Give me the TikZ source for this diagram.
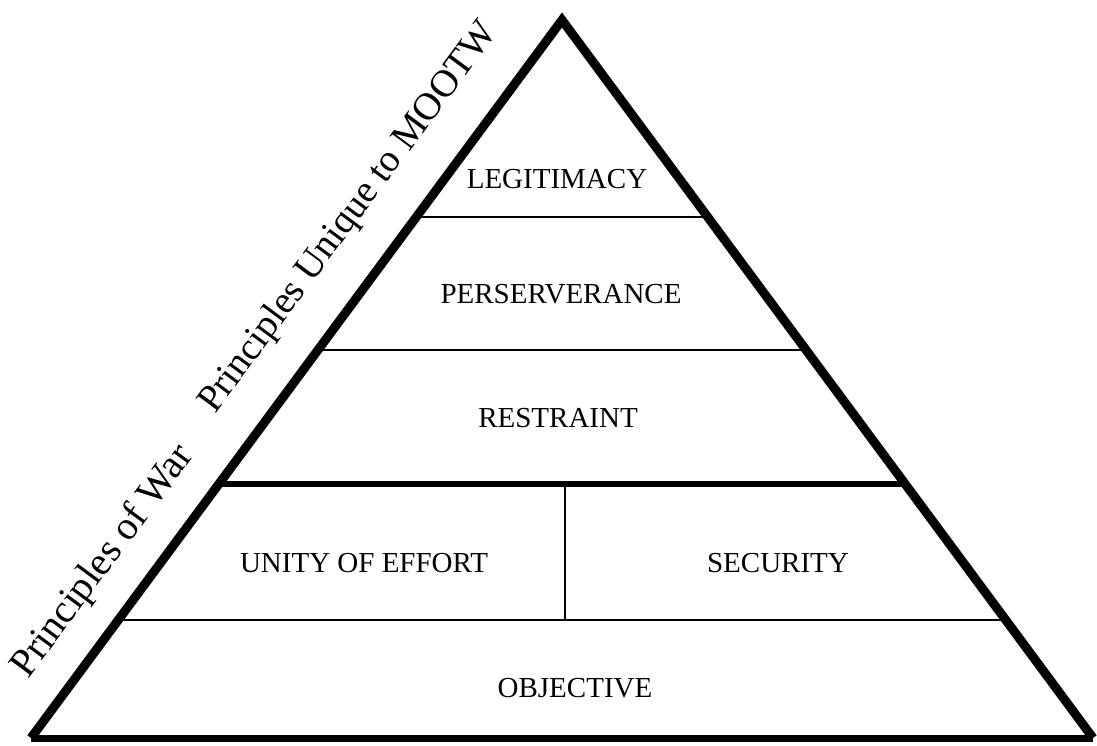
\documentclass[tikz,border=0pt]{standalone}
\usepackage{fontspec}
\setmainfont{Liberation Serif}
\usepackage{tikz}

\begin{document}
\begin{tikzpicture}[x=1pt, y=-1pt]
        % Define styles
        \tikzset{
            tier/.style={font=\fontsize{29}{34}\selectfont, inner sep=0pt, anchor=base},
            side_label/.style={font=\fontsize{40}{46}\selectfont, inner sep=0pt, anchor=base west, rotate=53.5},
            divider/.style={line width=2pt},
            heavy_divider/.style={line width=6.5pt},
            pyramid_side/.style={line width=9pt, line join=miter},
            pyramid_floor/.style={line width=7pt}
        }
        \useasboundingbox (0,0) rectangle (1097,745);

        % Corners
        \coordinate (apex) at (562,20);
        \coordinate (base_left) at (31,738);
        \coordinate (base_right) at (1093,738);

        % Nodes
        \node[tier] (legitimacy_node) at (557,188) {LEGITIMACY};
        \node[tier] (perserverance_node) at (561,303) {PERSERVERANCE};
        \node[tier] (restraint_node) at (558,427) {RESTRAINT};
        \node[tier] (unity_node) at (364,572) {UNITY OF EFFORT};
        \node[tier] (security_node) at (778,572) {SECURITY};
        \node[tier] (objective_node) at (575,697) {OBJECTIVE};

        \node[side_label] (war_label) at (28,680) {Principles of War};
        \node[side_label, font=\fontsize{38.5}{44}\selectfont] (mootw_label) at (215,415) {Principles Unique to MOOTW};

        % Lines
        \draw[divider] (416,217) -- (708,217);
        \draw[divider] (318,350) -- (806,350);
        \draw[heavy_divider] (219,484) -- (905,484);
        \draw[divider] (118,620) -- (1006,620);
        \draw[divider] (565,484) -- (565,620);

        % Pyramid
        \draw[pyramid_side] (base_left) -- (apex) -- (base_right);
        \draw[pyramid_floor] (base_left) -- (base_right);
    \end{tikzpicture}
\end{document}
